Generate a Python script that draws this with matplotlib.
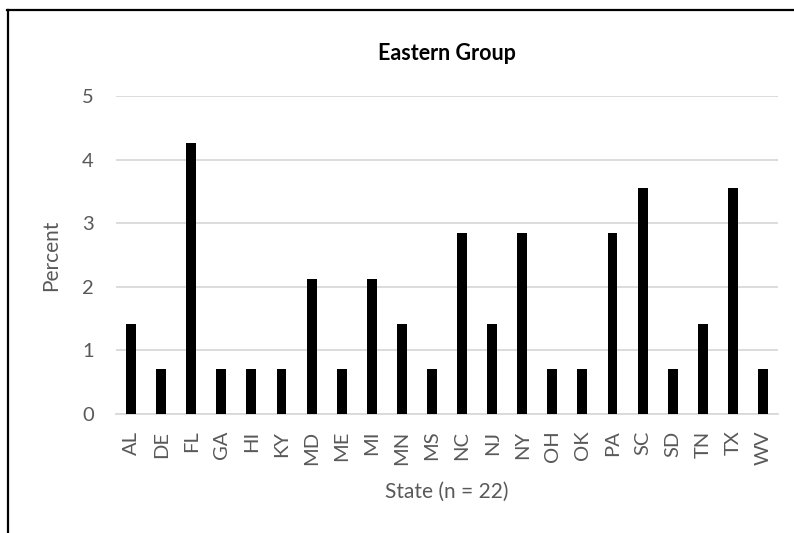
import matplotlib
matplotlib.use("Agg")
import matplotlib.pyplot as plt
from matplotlib.lines import Line2D

states = ["AL", "DE", "FL", "GA", "HI", "KY", "MD", "ME", "MI", "MN", "MS",
          "NC", "NJ", "NY", "OH", "OK", "PA", "SC", "SD", "TN", "TX", "WV"]
percent = [1.42, 0.71, 4.26, 0.71, 0.71, 0.71, 2.13, 0.71, 2.13, 1.42, 0.71,
           2.84, 1.42, 2.84, 0.71, 0.71, 2.84, 3.55, 0.71, 1.42, 3.55, 0.71]
y_ticks = [0, 1, 2, 3, 4, 5]

plt.rcParams["font.family"] = ["Lato", "DejaVu Sans"]
text_color = "#595959"

fig = plt.figure(figsize=(7.94, 5.33), dpi=100)
ax = fig.add_axes([116 / 794, 1 - 414 / 533, (778 - 116) / 794, (414 - 96) / 533])

x = range(len(states))
ax.bar(x, percent, width=0.33, color="black", zorder=3)

ax.set_xlim(-0.5, len(states) - 0.5)
ax.set_ylim(0, 5)
ax.set_yticks(y_ticks)
ax.set_xticks(list(x))
ax.set_xticklabels(states, rotation=90)
ax.yaxis.grid(True, color="#d9d9d9", linewidth=1.3, zorder=0)
ax.set_axisbelow(True)
for side in ("top", "right", "left"):
    ax.spines[side].set_visible(False)
ax.spines["bottom"].set_color("#d9d9d9")
ax.spines["bottom"].set_linewidth(1.3)
ax.tick_params(axis="both", length=0, labelsize=14.5, colors=text_color)
ax.tick_params(axis="y", pad=16)
ax.tick_params(axis="x", pad=12)

ax.set_ylabel("Percent", fontsize=15, color=text_color, labelpad=15)
ax.set_xlabel("State (n = 22)", fontsize=15, color=text_color, labelpad=12)
ax.set_title("Eastern Group", fontsize=15.5, fontweight="bold", color="black", pad=26)

# Outer frame: top and left edges only
fig.add_artist(Line2D([7 / 794, 1], [1 - 10 / 533, 1 - 10 / 533],
                      transform=fig.transFigure, color="black", linewidth=1.6))
fig.add_artist(Line2D([7.5 / 794, 7.5 / 794], [0, 1 - 10 / 533],
                      transform=fig.transFigure, color="black", linewidth=1.6))

fig.savefig("out.png", dpi=100)
